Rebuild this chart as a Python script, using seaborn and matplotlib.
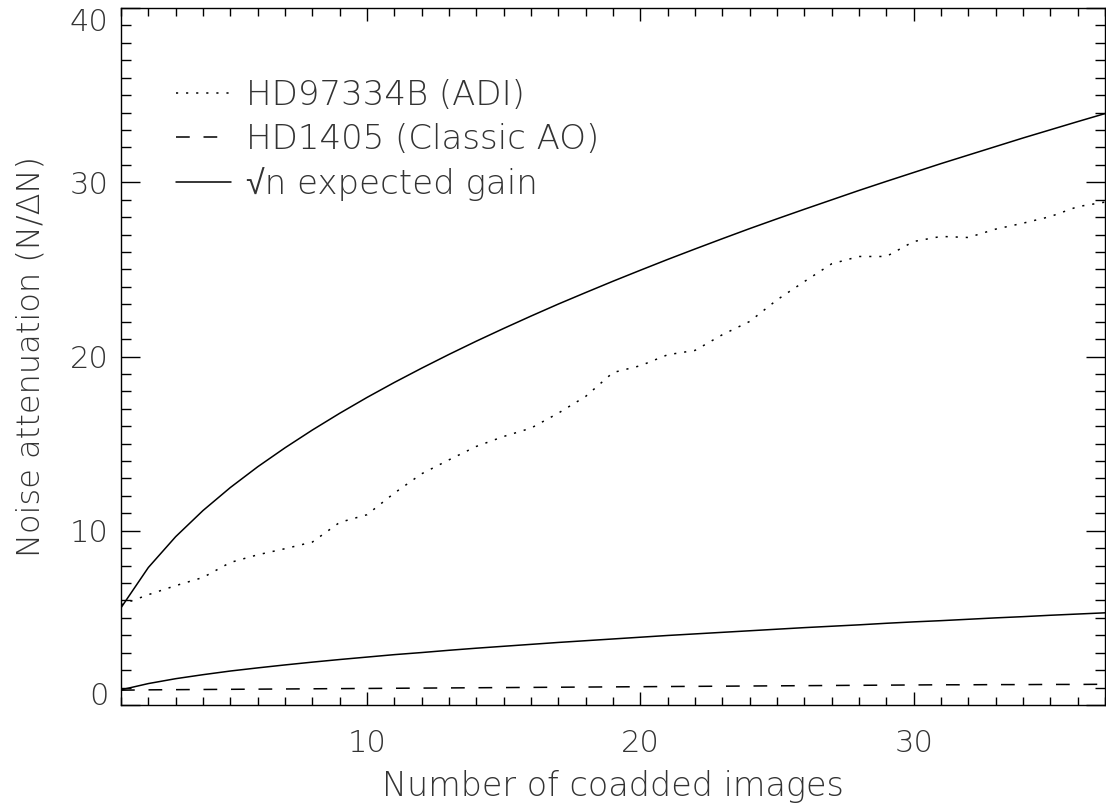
import seaborn as sns
import matplotlib.pyplot as plt
import pandas as pd
from matplotlib.ticker import MultipleLocator

# number of coadded images
n_images = list(range(1, 38))

# HD97334B (ADI) measured noise attenuation
adi_gain = [5.75, 6.33, 6.85, 7.32, 8.18, 8.62, 8.97, 9.35, 10.48, 10.92,
            12.16, 13.27, 14.07, 14.84, 15.41, 15.89, 16.75, 17.71, 19.08, 19.47,
            20.10, 20.35, 21.25, 22.01, 23.25, 24.30, 25.32, 25.74, 25.74, 26.60,
            26.89, 26.83, 27.31, 27.65, 28.03, 28.60, 28.86]

# HD1405 (classic AO)
classic_gain = [0.85, 0.87, 0.88, 0.89, 0.90, 0.91, 0.92, 0.93, 0.94, 0.95,
                0.96, 0.97, 0.98, 0.99, 1.00, 1.01, 1.02, 1.03, 1.04, 1.05,
                1.06, 1.07, 1.08, 1.09, 1.10, 1.11, 1.12, 1.13, 1.14, 1.15,
                1.16, 1.16, 1.17, 1.17, 1.18, 1.18, 1.19]

# sqrt(n) expected gain, starting from the ADI first frame
expected_adi = [5.58, 7.89, 9.66, 11.16, 12.48, 13.67, 14.76, 15.78, 16.74, 17.65,
                18.51, 19.33, 20.12, 20.88, 21.61, 22.32, 23.01, 23.67, 24.32, 24.95,
                25.57, 26.17, 26.76, 27.34, 27.90, 28.45, 28.99, 29.53, 30.05, 30.56,
                31.07, 31.56, 32.05, 32.54, 33.01, 33.48, 33.94]

# sqrt(n) expected gain, starting from the classic AO first frame
expected_ao = [0.87, 1.23, 1.51, 1.74, 1.95, 2.13, 2.30, 2.46, 2.61, 2.75,
               2.89, 3.01, 3.14, 3.26, 3.37, 3.48, 3.59, 3.69, 3.79, 3.89,
               3.99, 4.08, 4.17, 4.26, 4.35, 4.44, 4.52, 4.60, 4.69, 4.77,
               4.84, 4.92, 5.00, 5.07, 5.15, 5.22, 5.29]

x_ticks = [10, 20, 30]
y_ticks = [0, 10, 20, 30, 40]


def main():
    data = pd.DataFrame({
        'n': n_images,
        'adi': adi_gain,
        'classic': classic_gain,
        'sqrt_adi': expected_adi,
        'sqrt_ao': expected_ao,
    })

    sns.set_style('ticks')
    # light DejaVu lacks the radical sign, Liberation Sans picks it up
    plt.rcParams['font.family'] = ['DejaVu Sans', 'Liberation Sans']
    plt.rcParams['font.weight'] = 'light'
    plt.rcParams['axes.labelweight'] = 'light'
    plt.rcParams['text.color'] = '#333333'
    plt.rcParams['axes.labelcolor'] = '#333333'
    plt.rcParams['xtick.color'] = 'black'
    plt.rcParams['ytick.color'] = 'black'
    plt.rcParams['xtick.labelcolor'] = '#333333'
    plt.rcParams['ytick.labelcolor'] = '#333333'

    fig = plt.figure(figsize=(11.06, 8.08), dpi=100)
    ax = fig.add_axes([121 / 1106, 103 / 808, 984 / 1106, 697 / 808])

    lw = 1.1
    sns.lineplot(data=data, x='n', y='adi', ax=ax, color='black', lw=lw,
                 linestyle=(0, (1.4, 5.2)), label='HD97334B (ADI)')
    sns.lineplot(data=data, x='n', y='classic', ax=ax, color='black', lw=lw,
                 linestyle=(0, (9, 9)), label='HD1405 (Classic AO)')
    sns.lineplot(data=data, x='n', y='sqrt_adi', ax=ax, color='black', lw=lw,
                 linestyle='-', label='\u221an expected gain')
    sns.lineplot(data=data, x='n', y='sqrt_ao', ax=ax, color='black', lw=lw,
                 linestyle='-')

    ax.set_xlim(1, 37)
    ax.set_ylim(0, 40)
    ax.set_xticks(x_ticks)
    ax.set_yticks(y_ticks)
    ax.xaxis.set_minor_locator(MultipleLocator(1))
    ax.yaxis.set_minor_locator(MultipleLocator(1))

    ax.tick_params(which='both', direction='in', top=True, right=True,
                   width=1.0, labelsize=22)
    ax.tick_params(axis='x', which='major', length=9.5, pad=17)
    ax.tick_params(axis='x', which='minor', length=5.5)
    ax.tick_params(axis='y', which='major', length=14, pad=9)
    ax.tick_params(axis='y', which='minor', length=7)

    ylabels = ax.get_yticklabels()
    ylabels[0].set_va('baseline')
    ylabels[-1].set_va('top')

    for spine in ax.spines.values():
        spine.set_color('black')
        spine.set_linewidth(1.0)

    ax.set_xlabel('Number of coadded images', fontsize=24, labelpad=9)
    ax.set_ylabel('Noise attenuation (N/\u0394N)', fontsize=23, labelpad=17)

    ax.legend(loc='upper left', bbox_to_anchor=(0.056, 0.898), frameon=False,
              fontsize=24.5, handlelength=1.6, handletextpad=0.45,
              labelspacing=0.32, borderpad=0, borderaxespad=0)

    fig.savefig('out.png', dpi=100)


if __name__ == '__main__':
    main()
